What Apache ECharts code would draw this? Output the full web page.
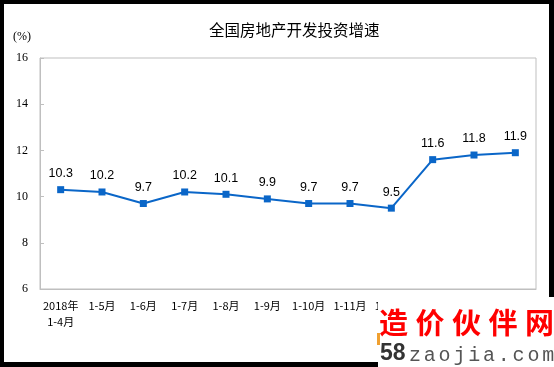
<!DOCTYPE html>
<html>
<head>
<meta charset="utf-8">
<script src="https://cdn.jsdelivr.net/npm/echarts@6/dist/echarts.min.js"></script>
<style>
html,body{margin:0;padding:0;background:#000;}
#c{width:554px;height:367px;}
</style>
</head>
<body>
<div id="c"></div>
<script>
var categories = ['2018年\n1-4月', '1-5月', '1-6月', '1-7月', '1-8月', '1-9月', '1-10月', '1-11月', '1-12月', '2019年\n1-2月', '1-3月', '1-4月'];
var growth = [10.3, 10.2, 9.7, 10.2, 10.1, 9.9, 9.7, 9.7, 9.5, 11.6, 11.8, 11.9];
var yTicks = [6, 8, 10, 12, 14, 16];
var titleText = '全国房地产开发投资增速';
var unitText = '(%)';
var wmTitle = ['造', '价', '伙', '伴', '网'];
var wmSite = ['z', 'a', 'o', 'j', 'i', 'a', '.', 'c', 'o', 'm'];

var chart = echarts.init(document.getElementById('c'));

var WZ = 1000;
var wmChildren = [
  { type: 'rect', z: WZ, shape: { x: 378, y: 297, width: 176, height: 70 }, style: { fill: '#fff' } },
  { type: 'rect', z: WZ + 1, shape: { x: 377, y: 333, width: 3, height: 12 }, style: { fill: '#f0a030' } },
  { type: 'text', z: WZ + 1, x: 380, y: 354, style: { text: '58', fill: '#333', font: 'bold 23px "Liberation Sans", Arial', textVerticalAlign: 'middle' } }
];
wmTitle.forEach(function (ch, i) {
  wmChildren.push({ type: 'text', z: WZ + 1, x: 379 + i * 36.5, y: 323, style: { text: ch, fill: '#ff0000', font: 'bold 29px "Noto Sans CJK SC"', textVerticalAlign: 'middle' } });
});
wmSite.forEach(function (ch, i) {
  wmChildren.push({ type: 'text', z: WZ + 1, x: 409 + i * 14.8, y: 356, style: { text: ch, fill: '#555', font: '20px "Liberation Mono", monospace', textVerticalAlign: 'middle' } });
});

chart.setOption({
  backgroundColor: '#000',
  animation: false,
  title: {
    text: titleText,
    left: 204,
    top: 17,
    textStyle: { fontFamily: 'Noto Sans CJK SC', fontSize: 15.5, fontWeight: 'normal', color: '#000' }
  },
  graphic: [
    { type: 'rect', z: -10, silent: true, shape: { x: 4, y: 4, width: 545, height: 358 }, style: { fill: '#fff' } },
    { type: 'text', x: 13, y: 37, style: { text: unitText, fill: '#000', font: '12px "Liberation Serif"', textVerticalAlign: 'middle' } },
    { type: 'group', z: WZ, children: wmChildren }
  ],
  grid: { left: 40, right: 18, top: 58, bottom: 78, show: true, borderColor: '#bfbfbf', borderWidth: 1, backgroundColor: 'transparent' },
  xAxis: {
    type: 'category',
    data: categories,
    boundaryGap: true,
    axisLine: { lineStyle: { color: '#bfbfbf', width: 1 } },
    axisTick: { inside: true, length: 4, lineStyle: { color: '#bfbfbf' } },
    axisLabel: { interval: 0, margin: 9, color: '#000', fontFamily: 'Noto Sans CJK SC', fontSize: 11, lineHeight: 16 }
  },
  yAxis: {
    type: 'value',
    min: yTicks[0],
    max: yTicks[yTicks.length - 1],
    interval: 2,
    splitLine: { show: false },
    axisLine: { show: true, lineStyle: { color: '#bfbfbf', width: 1 } },
    axisTick: { show: true, inside: true, length: 4, lineStyle: { color: '#bfbfbf' } },
    axisLabel: { margin: 12, color: '#000', fontFamily: 'Liberation Serif', fontSize: 12 }
  },
  series: [{
    type: 'line',
    data: growth,
    symbol: 'rect',
    symbolSize: 7,
    lineStyle: { color: '#0a66c8', width: 2 },
    itemStyle: { color: '#0a66c8' },
    label: { show: true, position: 'top', distance: 6, color: '#000', fontFamily: 'Liberation Sans', fontSize: 12.5 }
  }]
});
</script>
</body>
</html>
